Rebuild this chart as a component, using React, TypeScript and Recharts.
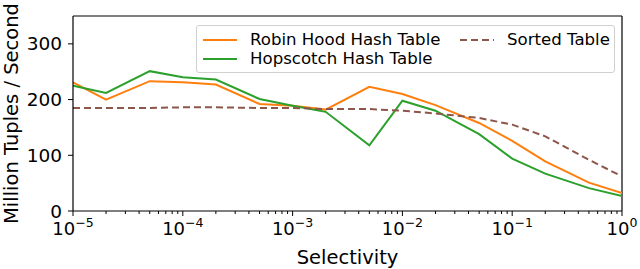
import { LineChart, Line, XAxis, YAxis, Legend, ReferenceLine } from "recharts"

// selectivity values (x) shared by all three series
const selectivity = [1e-5, 2e-5, 5e-5, 1e-4, 2e-4, 5e-4, 1e-3, 2e-3, 5e-3, 1e-2, 2e-2, 5e-2, 1e-1, 2e-1, 5e-1, 1]
const robinHood = [231, 200, 233, 231, 227, 192, 189, 182, 223, 210, 190, 158, 126, 89, 51, 32]
const hopscotch = [225, 212, 251, 240, 236, 201, 189, 178, 118, 198, 180, 138, 94, 67, 41, 27]
const sortedTable = [185, 185, 185, 186, 186, 185, 185, 183, 183, 180, 175, 167, 155, 134, 92, 62]

const majorTicks = [1e-5, 1e-4, 1e-3, 1e-2, 1e-1, 1]
const exponents = ["−5", "−4", "−3", "−2", "−1", "0"]
const minorTicks = [-5, -4, -3, -2, -1].flatMap((e) =>
  [2, 3, 4, 5, 6, 7, 8, 9].map((m) => m * Math.pow(10, e))
)
const yTicks = [0, 100, 200, 300]

const series = [
  { key: "robin", name: "Robin Hood Hash Table", color: "#ff7f0e", dash: undefined as string | undefined },
  { key: "hop", name: "Hopscotch Hash Table", color: "#2ca02c", dash: undefined as string | undefined },
  { key: "sorted", name: "Sorted Table", color: "#8c564b", dash: "7 4" },
]

const data = selectivity.map((s, i) => ({
  s,
  robin: robinHood[i],
  hop: hopscotch[i],
  sorted: sortedTable[i],
}))

const FONT = "DejaVu Sans"

function XTick(props: any) {
  const { x, y, payload } = props
  const idx = majorTicks.findIndex((t) => Math.abs(t - payload.value) / t < 1e-6)
  if (idx < 0) {
    return <line x1={x} x2={x} y1={y} y2={y + 3} stroke="#000" strokeWidth={1} />
  }
  return (
    <g>
      <line x1={x} x2={x} y1={y} y2={y + 5} stroke="#000" strokeWidth={1} />
      <text x={x} y={y + 24} textAnchor="middle" fontFamily={FONT} fontSize={18} fill="#000">
        <tspan>10</tspan>
        <tspan dy={-8} fontSize={12.5}>{exponents[idx]}</tspan>
      </text>
    </g>
  )
}

function LegendBox() {
  const cell = (s: (typeof series)[number], left: number, top: number) => (
    <div key={s.key} style={{ position: "absolute", left, top, display: "flex", alignItems: "center" }}>
      <svg width={34} height={4} style={{ marginRight: 13 }}>
        <line x1={0} x2={34} y1={2} y2={2} stroke={s.color} strokeWidth={2} strokeDasharray={s.dash} />
      </svg>
      <span style={{ fontFamily: FONT, fontSize: 16.6, color: "#000", whiteSpace: "nowrap", lineHeight: "19px" }}>{s.name}</span>
    </div>
  )
  return (
    <div
      style={{
        position: "relative",
        width: 419,
        height: 48,
        boxSizing: "border-box",
        border: "1px solid #d0d0d0",
        borderRadius: 3,
        background: "rgba(255,255,255,0.8)",
      }}
    >
      {cell(series[0], 6, 4)}
      {cell(series[2], 263, 4)}
      {cell(series[1], 6, 23)}
    </div>
  )
}

export default function App() {
  return (
    <div style={{ position: "fixed", left: 0, top: 0, width: 640, height: 269, background: "#fff" }}>
      <LineChart width={640} height={269} data={data} margin={{ top: 16, right: 18, bottom: 0, left: 0 }}>
        <XAxis
          dataKey="s"
          type="number"
          scale="log"
          domain={[1e-5, 1]}
          allowDataOverflow
          ticks={[...majorTicks, ...minorTicks]}
          interval={0}
          tickSize={0}
          tickMargin={0}
          tickLine={false}
          tick={<XTick />}
          height={58}
          axisLine={{ stroke: "#000", strokeWidth: 1.2 }}
          label={{ value: "Selectivity", position: "insideBottom", offset: 5, fontFamily: FONT, fontSize: 19.5, fill: "#000" }}
        />
        <YAxis
          domain={[0, 350]}
          ticks={yTicks}
          allowDataOverflow
          width={73}
          tickSize={5}
          tickMargin={6}
          tickLine={{ stroke: "#000" }}
          axisLine={{ stroke: "#000", strokeWidth: 1.2 }}
          tick={{ fontFamily: FONT, fontSize: 18.5, fill: "#000" }}
          label={{
            value: "Million Tuples / Second",
            angle: -90,
            position: "insideLeft",
            offset: 0,
            dx: 11,
            fontFamily: FONT,
            fontSize: 19.5,
            fill: "#000",
            style: { textAnchor: "middle" },
          }}
        />
        <ReferenceLine y={350} stroke="#000" strokeWidth={1.2} />
        <ReferenceLine x={1} stroke="#000" strokeWidth={1.2} />
        <Legend
          layout="horizontal"
          verticalAlign="middle"
          align="center"
          wrapperStyle={{ left: 196, top: 25, width: 419, height: 48 }}
          content={() => <LegendBox />}
        />
        {series.map((s) => (
          <Line
            key={s.key}
            dataKey={s.key}
            name={s.name}
            stroke={s.color}
            strokeWidth={2}
            strokeDasharray={s.dash}
            dot={false}
            isAnimationActive={false}
          />
        ))}
      </LineChart>
    </div>
  )
}
